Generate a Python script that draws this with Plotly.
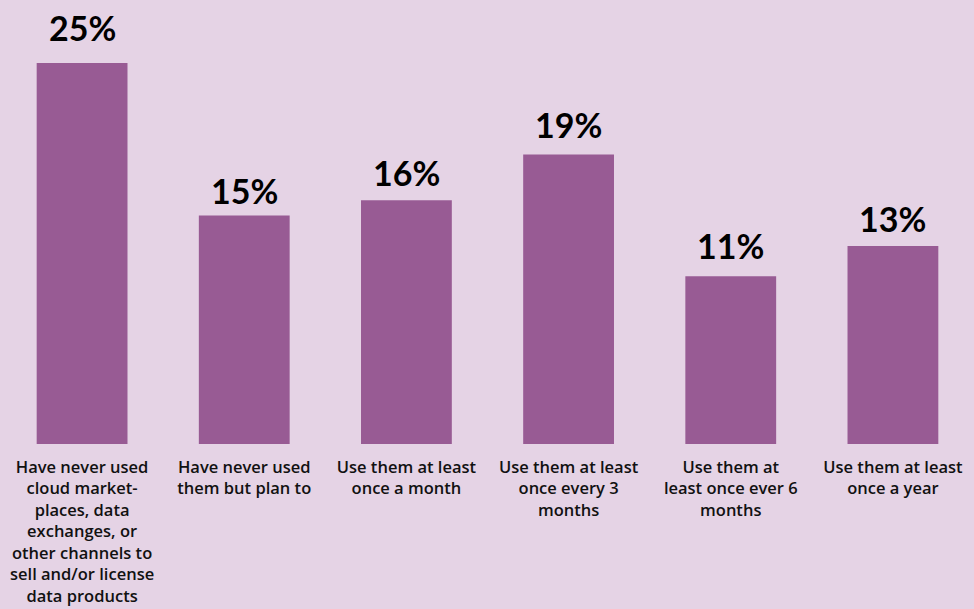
import plotly.graph_objects as go

categories = [
    "Have never used<br>cloud market-<br>places, data<br>exchanges, or<br>other channels to<br>sell and/or license<br>data products",
    "Have never used<br>them but plan to",
    "Use them at least<br>once a month",
    "Use them at least<br>once every 3<br>months",
    "Use them at<br>least once ever 6<br>months",
    "Use them at least<br>once a year",
]
values = [25, 15, 16, 19, 11, 13]
value_labels = ["25%", "15%", "16%", "19%", "11%", "13%"]

BG = "#e5d3e5"
BAR = "#985b94"

# pixel offsets of the value labels above the bars (as in the reference)
label_shift = [13, 2, 5, 7, 8, 5]

fig = go.Figure()
fig.add_trace(go.Bar(
    x=list(range(len(categories))),
    y=values,
    marker=dict(color=BAR, line=dict(width=0)),
    hoverinfo="skip",
))

for i, (v, t) in enumerate(zip(values, value_labels)):
    fig.add_annotation(
        x=i, y=v, text=t, showarrow=False, yanchor="bottom", yshift=label_shift[i],
        font=dict(family="Lato", size=34, color="#000000", weight="bold"),
    )

fig.update_layout(
    template="none",
    width=974, height=609,
    paper_bgcolor=BG, plot_bgcolor=BG,
    margin=dict(l=1, r=0, t=63, b=165, autoexpand=False),
    bargap=0.44,
    showlegend=False,
    xaxis=dict(
        automargin=False,
        tickmode="array",
        tickvals=list(range(len(categories))),
        ticktext=categories,
        showgrid=False, zeroline=False, showline=False,
        ticks="outside", ticklen=8, tickcolor="rgba(0,0,0,0)",
        tickfont=dict(family="Open Sans", size=16.5, color="#111111", weight=600),
        tickangle=0,
        range=[-0.5, 5.5],
    ),
    yaxis=dict(
        automargin=False,
        range=[0, 25], visible=False, showgrid=False, zeroline=False,
    ),
)

fig.write_html(
    "out.html",
    config={"displayModeBar": False},
    post_script="document.body.style.margin='0';document.body.style.background='" + BG + "';",
)
